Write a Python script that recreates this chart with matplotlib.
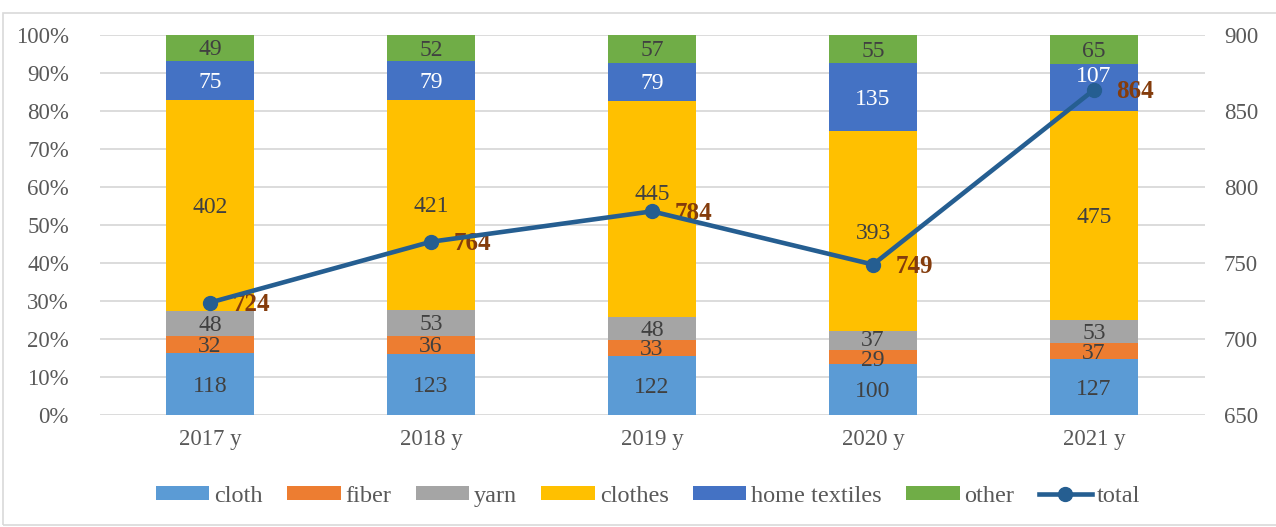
import matplotlib.pyplot as plt
import numpy as np
from matplotlib.patches import Rectangle

plt.rcParams['font.family'] = ['Liberation Serif', 'DejaVu Serif']

# Data
years = ['2017 y', '2018 y', '2019 y', '2020 y', '2021 y']
cloth = [118, 123, 122, 100, 127]
fiber = [32, 36, 33, 29, 37]
yarn = [48, 53, 48, 37, 53]
clothes = [402, 421, 445, 393, 475]
home_textiles = [75, 79, 79, 135, 107]
other = [49, 52, 57, 55, 65]
total = [724, 764, 784, 749, 864]

series = [('cloth', cloth, '#5B9BD5', '#404040'),
          ('fiber', fiber, '#ED7D31', '#404040'),
          ('yarn', yarn, '#A5A5A5', '#404040'),
          ('clothes', clothes, '#FFC000', '#404040'),
          ('home textiles', home_textiles, '#4472C4', 'white'),
          ('other', other, '#70AD47', '#404040')]

# labels nudged (in points) where they would hit other labels
label_shift = {(2, 'clothes'): 12, (4, 'home textiles'): 9,
               (3, 'yarn'): 1.5, (3, 'fiber'): -1}

fig = plt.figure(figsize=(12.76, 5.27), dpi=100)
ax = fig.add_axes([0.078, 0.2125, 0.866, 0.721])
ax2 = ax.twinx()

x = np.arange(len(years))
sums = np.array(total, dtype=float)
bottom = np.zeros(len(years))
for name, vals, color, tcolor in series:
    share = np.array(vals) / sums
    ax.bar(x, share, 0.4, bottom=bottom, color=color, label=name, zorder=2)
    for i in range(len(years)):
        dy = label_shift.get((i, name), 0) - 1.5
        ax.annotate(str(vals[i]), (x[i], bottom[i] + share[i] / 2), xytext=(0, dy),
                    textcoords='offset points', ha='center', va='center',
                    fontsize=17, color=tcolor, zorder=3)
    bottom += share

ax.set_xlim(-0.5, len(years) - 0.5)
ax.set_ylim(0, 1)
ax.set_yticks(np.arange(0, 1.01, 0.1))
ax.set_yticklabels([f'{int(round(v * 100))}%' for v in np.arange(0, 1.01, 0.1)])
ax.set_xticks(x)
ax.set_xticklabels(years)
ax.grid(axis='y', color='#D9D9D9', linewidth=1.3, zorder=0)
ax.set_axisbelow(True)

ax2.plot(x, total, color='#255E91', linewidth=3.3, marker='o', markersize=10,
         label='total', zorder=4)
for i in range(len(years)):
    ax2.annotate(str(total[i]), (x[i], total[i]), xytext=(16, -1.5), textcoords='offset points',
                 ha='left', va='center', fontsize=18, fontweight='bold', color='#843C0C')
ax2.set_ylim(650, 900)
ax2.set_yticks(range(650, 901, 50))

for a in (ax, ax2):
    for s in a.spines.values():
        s.set_visible(False)
    a.tick_params(length=0, labelsize=16.5, colors='#595959')
ax.tick_params(axis='y', pad=22)
ax.tick_params(axis='x', pad=10)
ax2.tick_params(axis='y', pad=14)

h1, l1 = ax.get_legend_handles_labels()
h2, l2 = ax2.get_legend_handles_labels()
leg = fig.legend(h1 + h2, l1 + l2, loc='center', bbox_to_anchor=(0.508, 0.058), ncol=7,
                 frameon=False, fontsize=17.5, handlelength=2.2, handleheight=0.5,
                 handletextpad=0.2, columnspacing=1.0, labelcolor='#595959')

fig.patches.append(Rectangle((3 / 1276, 0.004), 1.0, 1 - 13 / 527 - 0.004,
                             transform=fig.transFigure, fill=False,
                             edgecolor='#D9D9D9', linewidth=1.2))

fig.savefig('out.png', dpi=100)
